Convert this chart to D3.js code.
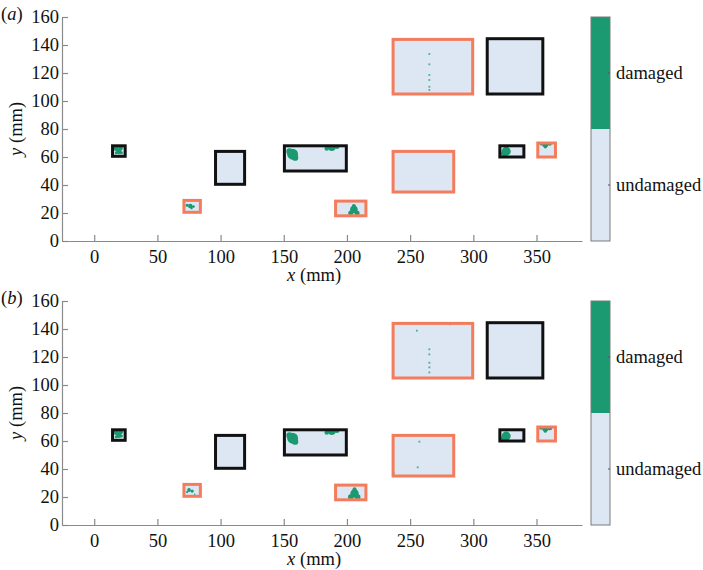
<!DOCTYPE html>
<html>
<head>
<meta charset="utf-8">
<script src="https://cdn.jsdelivr.net/npm/d3@7/dist/d3.min.js"></script>
<style>
  html, body { margin: 0; padding: 0; background: #fff; }
  svg { display: block; }
</style>
</head>
<body>
<svg id="chart" width="703" height="570"></svg>
<script>
// ---------- DATA ----------
const xTicks = [0, 50, 100, 150, 200, 250, 300, 350];
const yTicks = [0, 20, 40, 60, 80, 100, 120, 140, 160];
const panelLabels = ["a", "b"];
const colorbarLabels = ["damaged", "undamaged"];

// specimens (mm): x0, x1, y0, y1, border type
const specX0 = [14.5, 71, 96, 150.5, 191, 236.5, 236.5, 311, 321, 351];
const specX1 = [24.5, 84, 119, 199.5, 215, 284.5, 299.5, 355, 340, 365];
const specY0 = [60.5, 20.5, 40.5, 50, 18, 35, 105, 105, 60, 60];
const specY1 = [68, 29, 64, 68, 28.5, 64, 144, 144.5, 68, 70];
const specType = ["black", "orange", "black", "black", "orange", "orange", "orange", "black", "black", "orange"];

// damaged regions, panel (a): [specimen index, x, y, radius] (mm)
const damageA = [
  [0, 17.5, 66, 2.0], [0, 21, 66.5, 1.8], [0, 19.5, 64, 2.2], [0, 17.5, 63, 1.2], [0, 21.5, 63, 1.2],
  [1, 76, 25, 1.8], [1, 73.5, 25.6, 1.2], [1, 78.5, 24.6, 1.1], [1, 77, 23.5, 1.0],
  [3, 157, 62, 4.3], [3, 154.5, 64, 2.5], [3, 159, 59.5, 2.5], [3, 188, 67, 3.0], [3, 184, 66, 1.8], [3, 192, 67.5, 2.0],
  [4, 205.5, 22.5, 3.0], [4, 203, 20, 2.0], [4, 208, 20, 2.0], [4, 205.5, 25, 1.6],
  [8, 326, 64, 3.6], [8, 324, 62.5, 2.0],
  [9, 357, 69, 2.4], [9, 354, 69.5, 1.5], [9, 360.5, 69.5, 1.6], [9, 357, 67, 1.0]
];
// isolated damaged points, panel (a): [x, y]
const dotsA = [
  [265.2, 133.6], [265.2, 126.2], [265.2, 118.6], [265.2, 115], [265.2, 110.2], [265.2, 107.9]
];

// damaged regions, panel (b)
const damageB = [
  [0, 17.5, 66, 2.0], [0, 21, 66.5, 1.8], [0, 19.5, 64, 2.0], [0, 17.5, 63, 1.2], [0, 21.5, 63.5, 1.2],
  [1, 75, 25, 1.5], [1, 77.5, 24.2, 1.3], [1, 73.5, 23.5, 0.9], [1, 79.5, 22, 0.6],
  [3, 157, 62, 4.3], [3, 154.5, 64, 2.5], [3, 159, 59.5, 2.5], [3, 188, 67, 3.0], [3, 184, 66, 1.8], [3, 192, 67.5, 2.0],
  [4, 206, 22.5, 3.3], [4, 203, 20, 2.2], [4, 208.5, 20, 2.2], [4, 206, 25.5, 1.6],
  [8, 326, 63.5, 3.6], [8, 324, 62, 2.0],
  [9, 357, 69, 2.5], [9, 353.5, 69.5, 1.6], [9, 360.5, 69.5, 2.0], [9, 357, 67, 1.2]
];
const dotsB = [
  [255.3, 138.8], [281.6, 143.4], [265.2, 125.5], [265.2, 121.9], [265.2, 115.9], [265.2, 112.6], [265.2, 109],
  [257.3, 59.5], [256, 41.2], [237, 37]
];

// ---------- DRAW ----------
const svg = d3.select("#chart");
const FONT = 18.5;
const FAMILY = "Liberation Serif";
const colors = { fill: "#dce7f3", damaged: "#1b9a72", orange: "#f47c5c", black: "#111111", axis: "#8a8a8a" };

const x = d3.scaleLinear().domain([-25.5, 386]).range([62, 582]);
const panelTops = [17, 301];
const panelH = 224;

const specimens = specX0.map((d, i) => ({ x0: specX0[i], x1: specX1[i], y0: specY0[i], y1: specY1[i], type: specType[i] }));

function txt(parent, s, italic) {
  return parent.append("text").attr("font-size", FONT).attr("font-family", FAMILY).attr("fill", "#111")
    .attr("font-style", italic ? "italic" : "normal").text(s);
}

function drawPanel(p, damage, dots) {
  const top = panelTops[p];
  const y = d3.scaleLinear().domain([0, 160]).range([top + panelH, top]);
  const g = svg.append("g");

  const defs = svg.append("defs");
  specimens.forEach((s, i) => {
    defs.append("clipPath").attr("id", `clip-${p}-${i}`)
      .append("rect")
      .attr("x", x(s.x0)).attr("y", y(s.y1))
      .attr("width", x(s.x1) - x(s.x0)).attr("height", y(s.y0) - y(s.y1));
  });

  g.selectAll("rect.spec-fill").data(specimens).join("rect")
    .attr("class", "spec-fill")
    .attr("x", d => x(d.x0)).attr("y", d => y(d.y1))
    .attr("width", d => x(d.x1) - x(d.x0)).attr("height", d => y(d.y0) - y(d.y1))
    .attr("fill", colors.fill);

  g.selectAll("circle.dmg").data(damage).join("circle")
    .attr("class", "dmg")
    .attr("clip-path", d => `url(#clip-${p}-${d[0]})`)
    .attr("cx", d => x(d[1])).attr("cy", d => y(d[2]))
    .attr("r", d => x(d[3]) - x(0))
    .attr("fill", colors.damaged);

  g.selectAll("rect.dot").data(dots).join("rect")
    .attr("class", "dot")
    .attr("x", d => x(d[0]) - 0.9).attr("y", d => y(d[1]) - 0.9)
    .attr("width", 1.8).attr("height", 1.8)
    .attr("fill", colors.damaged).attr("opacity", 0.75);

  g.selectAll("rect.spec-border").data(specimens).join("rect")
    .attr("class", "spec-border")
    .attr("x", d => x(d.x0)).attr("y", d => y(d.y1))
    .attr("width", d => x(d.x1) - x(d.x0)).attr("height", d => y(d.y0) - y(d.y1))
    .attr("fill", "none")
    .attr("stroke", d => d.type === "orange" ? colors.orange : colors.black)
    .attr("stroke-width", 3);

  const xAxis = d3.axisBottom(x).tickValues(xTicks).tickSizeInner(-6).tickSizeOuter(0).tickPadding(9);
  const yAxis = d3.axisLeft(y).tickValues(yTicks).tickSizeInner(-6).tickSizeOuter(0).tickPadding(3);

  const gx = g.append("g").attr("transform", `translate(0,${top + panelH})`).call(xAxis);
  const gy = g.append("g").attr("transform", `translate(62,0)`).call(yAxis);
  [gx, gy].forEach(a => {
    a.attr("font-family", FAMILY).attr("font-size", FONT);
    a.select(".domain").attr("stroke", colors.axis).attr("stroke-width", 1.2);
    a.selectAll(".tick line").attr("stroke", colors.axis).attr("stroke-width", 1.2);
    a.selectAll(".tick text").attr("fill", "#111");
  });

  // x axis title: italic "x" + "(mm)"
  const xtY = top + panelH + 40;
  txt(g, "x", true).attr("x", 287).attr("y", xtY);
  txt(g, "(mm)", false).attr("x", 300).attr("y", xtY);

  // y axis title (rotated)
  const yg = g.append("g").attr("transform", `translate(22,${top + panelH / 2}) rotate(-90)`);
  txt(yg, "y", true).attr("x", -27).attr("y", 0);
  txt(yg, "(mm)", false).attr("x", -14).attr("y", 0);

  // panel label
  const pl = g.append("text").attr("x", 1).attr("y", top + 3)
    .attr("font-size", FONT).attr("font-family", FAMILY).attr("fill", "#111");
  pl.append("tspan").text("(");
  pl.append("tspan").attr("font-style", "italic").text(panelLabels[p]);
  pl.append("tspan").text(")");

  // colorbar
  const cb = d3.scaleBand().domain(colorbarLabels).range([top, top + panelH]);
  const cbx = 591, cbw = 19;
  g.selectAll("rect.cb").data(colorbarLabels).join("rect")
    .attr("class", "cb")
    .attr("x", cbx).attr("y", d => cb(d))
    .attr("width", cbw).attr("height", cb.bandwidth())
    .attr("fill", (d, i) => i === 0 ? colors.damaged : colors.fill);
  g.append("rect").attr("x", cbx).attr("y", top).attr("width", cbw).attr("height", panelH)
    .attr("fill", "none").attr("stroke", "#7a7a7a").attr("stroke-width", 1);
  g.selectAll("line.cbt").data(colorbarLabels).join("line")
    .attr("class", "cbt")
    .attr("x1", cbx + cbw - 2).attr("x2", cbx + cbw)
    .attr("y1", d => cb(d) + cb.bandwidth() / 2).attr("y2", d => cb(d) + cb.bandwidth() / 2)
    .attr("stroke", "#555").attr("stroke-width", 1);
  g.selectAll("text.cbl").data(colorbarLabels).join("text")
    .attr("class", "cbl")
    .attr("x", 616).attr("y", d => cb(d) + cb.bandwidth() / 2)
    .attr("dy", "0.32em").attr("font-size", FONT).attr("font-family", FAMILY).attr("fill", "#111")
    .text(d => d);
}

drawPanel(0, damageA, dotsA);
drawPanel(1, damageB, dotsB);
</script>
</body>
</html>
